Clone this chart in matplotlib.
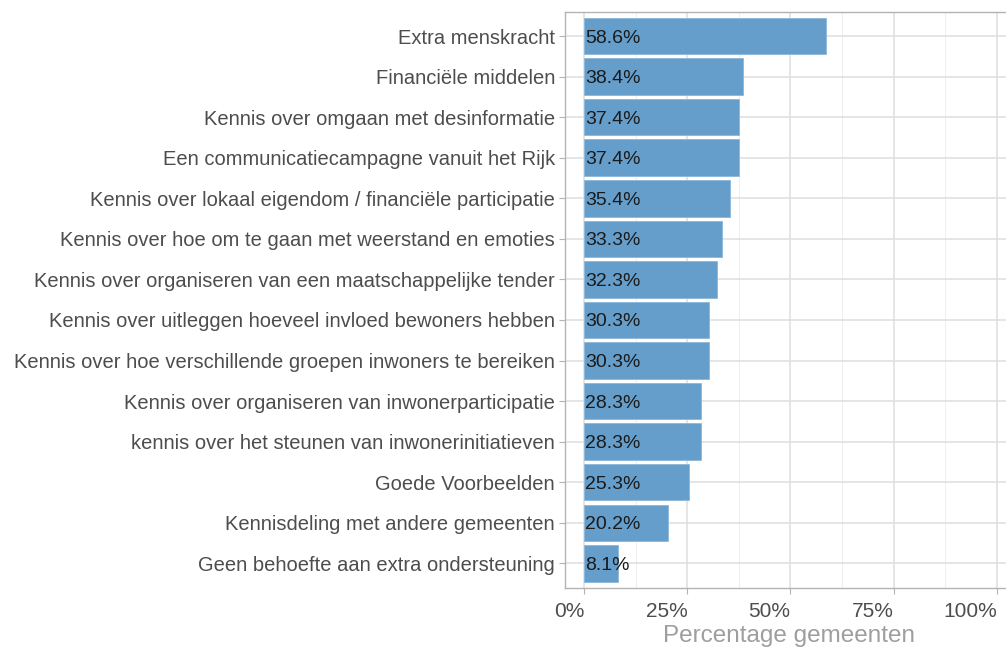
import matplotlib
matplotlib.use("Agg")
import matplotlib.pyplot as plt
from matplotlib.ticker import FixedLocator

plt.rcParams['font.family'] = ['Liberation Sans', 'DejaVu Sans']

categories = [
    "Extra menskracht",
    "Financiële middelen",
    "Kennis over omgaan met desinformatie",
    "Een communicatiecampagne vanuit het Rijk",
    "Kennis over lokaal eigendom / financiële participatie",
    "Kennis over hoe om te gaan met weerstand en emoties",
    "Kennis over organiseren van een maatschappelijke tender",
    "Kennis over uitleggen hoeveel invloed bewoners hebben",
    "Kennis over hoe verschillende groepen inwoners te bereiken",
    "Kennis over organiseren van inwonerparticipatie",
    "kennis over het steunen van inwonerinitiatieven",
    "Goede Voorbeelden",
    "Kennisdeling met andere gemeenten",
    "Geen behoefte aan extra ondersteuning",
]
values = [58.6, 38.4, 37.4, 37.4, 35.4, 33.3, 32.3, 30.3, 30.3, 28.3, 28.3, 25.3, 20.2, 8.1]
xticks = [0, 25, 50, 75, 100]
xtick_labels = ["0%", "25%", "50%", "75%", "100%"]
xlabel = "Percentage gemeenten"

W, H = 1006, 647
fig = plt.figure(figsize=(W / 100, H / 100), dpi=100)
left, right, top, bottom = 564.7, 1013, 11.7, 587.7
ax = fig.add_axes([left / W, 1 - bottom / H, (right - left) / W, (bottom - top) / H])

n = len(categories)
ypos = list(range(n))[::-1]
ax.barh(ypos, values, height=0.9, color="#659ECB", edgecolor="#8DB8DA", linewidth=0.6, zorder=3)
for y, v in zip(ypos, values):
    ax.text(0.2, y, f"{v:.1f}%", ha="left", va="center_baseline", fontsize=14, color="#1A1A1A", zorder=4)

ax.set_xlim(-4.75, (right - 584.3) / 4.124)
ax.set_ylim(-0.6, n - 1 + 0.6)
ax.set_yticks(ypos)
ax.set_yticklabels(categories)
ax.xaxis.set_major_locator(FixedLocator(xticks))
ax.set_xticklabels(xtick_labels, ha="right")
ax.xaxis.set_minor_locator(FixedLocator([12.5, 37.5, 62.5, 87.5]))

ax.grid(which="major", color="#DEDEDE", linewidth=1.1, zorder=0)
ax.grid(which="minor", axis="x", color="#EBEBEB", linewidth=0.6, zorder=0)
ax.set_axisbelow(True)

for side in ["left", "bottom", "top"]:
    ax.spines[side].set_color("#B3B3B3")
    ax.spines[side].set_linewidth(1.0)
ax.spines["right"].set_visible(False)

ax.tick_params(axis="y", which="major", length=4, color="#B3B3B3", labelsize=14.5, labelcolor="#4D4D4D", pad=3)
ax.tick_params(axis="x", which="major", length=4, color="#B3B3B3", labelsize=15, labelcolor="#4D4D4D", pad=6)
ax.tick_params(axis="x", which="minor", length=0)
ax.set_xlabel(xlabel, fontsize=17.5, color="#9E9E9E", labelpad=3)

fig.savefig("out.png", dpi=100)
